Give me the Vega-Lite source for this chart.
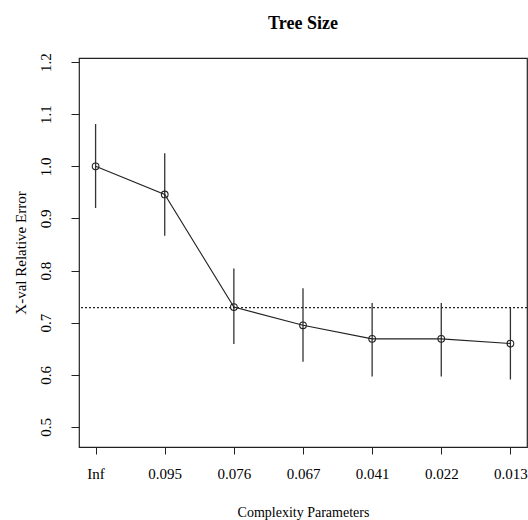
{
  "$schema": "https://vega.github.io/schema/vega-lite/v6.json",
  "width": 448,
  "height": 389,
  "autosize": {"type": "none"},
  "padding": {"left": 79, "top": 58, "right": 1, "bottom": 73},
  "background": "white",
  "title": {
    "text": "Tree Size",
    "font": "Liberation Serif",
    "fontSize": 18,
    "fontWeight": "bold",
    "color": "black",
    "anchor": "middle",
    "frame": "group",
    "baseline": "alphabetic",
    "offset": 6
  },
  "config": {
    "view": {"stroke": "#222", "strokeWidth": 1.2},
    "axis": {
      "domain": false,
      "grid": false,
      "tickColor": "#222",
      "labelFont": "Liberation Serif",
      "titleFont": "Liberation Serif",
      "labelColor": "black",
      "titleColor": "black",
      "titleFontWeight": "normal",
      "labelFontSize": 15
    }
  },
  "data": {
    "values": [
      {"cp": "Inf", "xerror": 1.000, "lo": 0.920, "hi": 1.081},
      {"cp": "0.095", "xerror": 0.946, "lo": 0.867, "hi": 1.025},
      {"cp": "0.076", "xerror": 0.730, "lo": 0.659, "hi": 0.804},
      {"cp": "0.067", "xerror": 0.695, "lo": 0.625, "hi": 0.766},
      {"cp": "0.041", "xerror": 0.669, "lo": 0.597, "hi": 0.738},
      {"cp": "0.022", "xerror": 0.669, "lo": 0.597, "hi": 0.738},
      {"cp": "0.013", "xerror": 0.660, "lo": 0.591, "hi": 0.729}
    ]
  },
  "encoding": {
    "x": {
      "field": "cp",
      "type": "nominal",
      "sort": null,
      "scale": {"type": "point", "padding": 0.24},
      "axis": {
        "title": "Complexity Parameters",
        "titleFontSize": 14,
        "labelAngle": 0,
        "tickSize": 7,
        "labelPadding": 24,
        "labelBaseline": "alphabetic",
        "titleBaseline": "alphabetic",
        "titleY": 69,
        "titleX": 224
      }
    }
  },
  "layer": [
    {
      "mark": {"type": "rule", "color": "#333", "strokeWidth": 1.3},
      "encoding": {
        "y": {
          "field": "lo",
          "type": "quantitative",
          "scale": {"domain": [0.4616, 1.2077], "nice": false, "zero": false},
          "axis": {
            "title": "X-val Relative Error",
            "titleFontSize": 15,
            "values": [0.5, 0.6, 0.7, 0.8, 0.9, 1.0, 1.1, 1.2],
            "format": ".1f",
            "labelAngle": -90,
            "labelAlign": "center",
            "labelBaseline": "alphabetic",
            "tickSize": 8,
            "labelPadding": 21,
            "titleAngle": -90,
            "titleBaseline": "alphabetic",
            "titleX": -54,
            "titleY": 194.5,
            "titleAlign": "center"
          }
        },
        "y2": {"field": "hi"}
      }
    },
    {
      "mark": {"type": "line", "color": "#222", "strokeWidth": 1.1},
      "encoding": {"y": {"field": "xerror", "type": "quantitative"}}
    },
    {
      "mark": {"type": "point", "shape": "circle", "filled": false, "color": "#222", "size": 45, "strokeWidth": 1.1, "opacity": 1},
      "encoding": {"y": {"field": "xerror", "type": "quantitative"}}
    },
    {
      "data": {"values": [{"threshold": 0.729}]},
      "mark": {"type": "rule", "color": "#222", "strokeWidth": 1.1, "strokeDash": [2, 2]},
      "encoding": {"x": null, "y": {"field": "threshold", "type": "quantitative"}}
    }
  ]
}
